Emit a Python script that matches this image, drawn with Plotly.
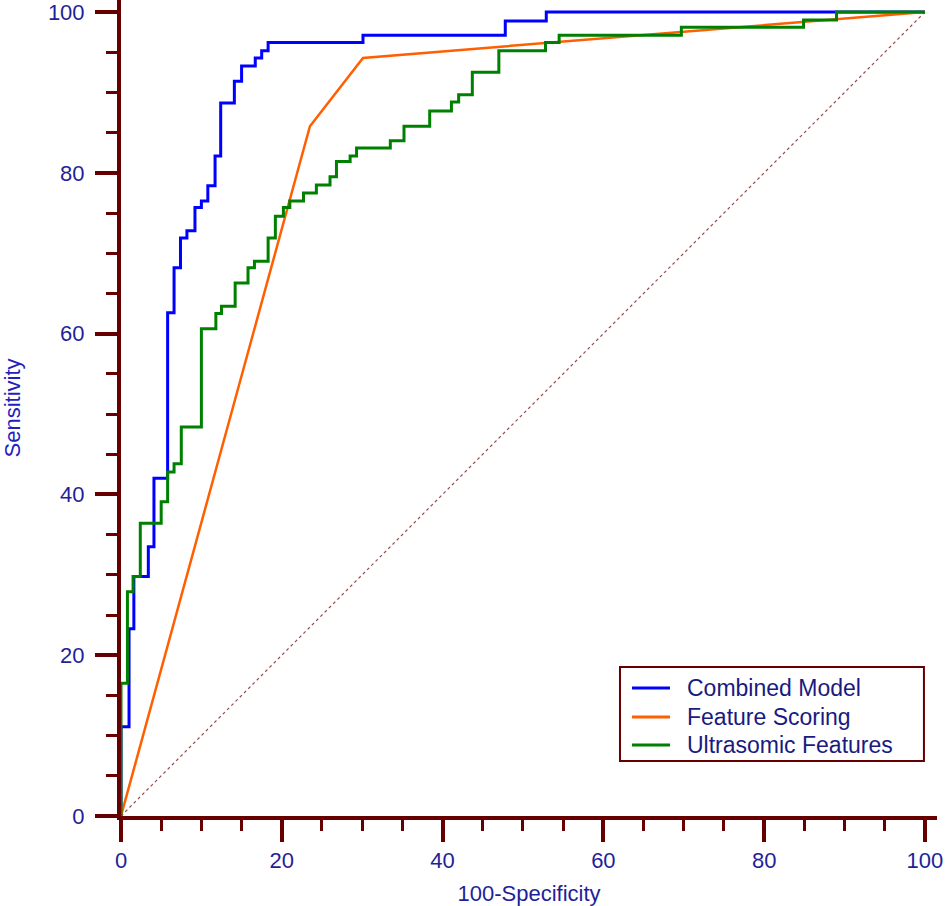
import plotly.graph_objects as go

# ROC points (100-Specificity, Sensitivity)
combined_x = [0, 0, 1.0, 1.6, 3.4, 4.1, 5.8, 6.6, 7.4, 8.2, 9.2, 10.0, 10.8, 11.7, 12.4,
              14.1, 15.0, 16.7, 17.5, 18.3, 30.1, 47.8, 52.9, 100]
combined_y = [0, 11.1, 23.3, 29.8, 33.5, 42.0, 62.6, 68.2, 71.9, 72.8, 75.7, 76.5, 78.4, 82.1, 88.7,
              91.4, 93.3, 94.3, 95.2, 96.2, 97.1, 98.9, 100, 100]

scoring_x = [0, 23.5, 30.1, 100]
scoring_y = [0, 85.8, 94.3, 100]

ultra_x = [0, 0, 0.8, 1.5, 2.4, 5.0, 5.8, 6.6, 7.5, 10.0, 11.8, 12.5, 14.2, 15.8, 16.6, 18.3,
           19.2, 20.2, 21.0, 22.7, 24.3, 26.0, 26.8, 28.5, 29.3, 33.5, 35.2, 38.4, 41.1, 42.0,
           43.7, 47.0, 52.8, 54.5, 69.7, 84.9, 89.0, 100]
ultra_y = [0, 16.5, 27.9, 29.8, 36.4, 39.1, 42.8, 43.8, 48.4, 60.6, 62.5, 63.4, 66.3, 68.2, 69.0, 71.9,
           74.6, 75.7, 76.5, 77.5, 78.5, 79.5, 81.4, 82.1, 83.1, 84.0, 85.8, 87.7, 88.8, 89.7,
           92.5, 95.2, 96.2, 97.1, 98.1, 99.0, 100, 100]

ref_line = [0, 100]
ticks = [0, 20, 40, 60, 80, 100]

names = ['Combined Model', 'Feature Scoring', 'Ultrasomic Features']
colors = ['#0000ff', '#ff5f00', '#008000']

axis_col = '#660000'
text_col = '#1f1f99'
font = 'Liberation Sans, Arial, sans-serif'

fig = go.Figure()
fig.add_trace(go.Scatter(x=ref_line, y=ref_line, mode='lines',
                         line=dict(color='#9a4a4a', width=1.2, dash='dot')))
fig.add_trace(go.Scatter(x=combined_x, y=combined_y, mode='lines', name=names[0],
                         line=dict(color=colors[0], width=3, shape='hv')))
fig.add_trace(go.Scatter(x=scoring_x, y=scoring_y, mode='lines', name=names[1],
                         line=dict(color=colors[1], width=2.5)))
fig.add_trace(go.Scatter(x=ultra_x, y=ultra_y, mode='lines', name=names[2],
                         line=dict(color=colors[2], width=3, shape='hv')))

axis_style = dict(range=[0, 101.5], tickvals=ticks, showgrid=False, zeroline=False,
                  showline=True, linecolor=axis_col, linewidth=4, automargin=False,
                  ticks='outside', ticklen=22, tickwidth=4, tickcolor=axis_col,
                  ticklabeloverflow='allow',
                  minor=dict(dtick=5, tick0=0, ticks='outside', ticklen=11, tickwidth=3,
                             tickcolor=axis_col, showgrid=False),
                  tickfont=dict(family=font, size=22, color=text_col))

# legend box drawn by hand so it matches the original spacing
shapes = [dict(type='rect', xref='paper', yref='paper', x0=0.6115, x1=0.984, y0=0.0674, y1=0.1826,
               line=dict(color=axis_col, width=2), fillcolor='white', layer='above')]
annotations = []
row_y = [0.1569, 0.1213, 0.0870]
for name, col, yy in zip(names, colors, row_y):
    shapes.append(dict(type='line', xref='paper', yref='paper', x0=0.6262, x1=0.6728, y0=yy, y1=yy,
                       line=dict(color=col, width=3), layer='above'))
    annotations.append(dict(text=name, xref='paper', yref='paper', x=0.6912, y=yy,
                            xanchor='left', yanchor='middle', showarrow=False,
                            font=dict(family=font, size=23, color='#1a1a80')))

fig.update_layout(width=945, height=906, showlegend=False,
                  margin=dict(l=121, r=8, t=0, b=90),
                  plot_bgcolor='white', paper_bgcolor='white',
                  shapes=shapes, annotations=annotations,
                  xaxis=dict(axis_style, title=dict(text='100-Specificity', standoff=16,
                                                    font=dict(family=font, size=22, color=text_col))),
                  yaxis=dict(axis_style, ticklabelstandoff=6,
                             title=dict(text='Sensitivity', standoff=40,
                                        font=dict(family=font, size=22, color='#2222bb'))))

# drop the page's default body margin so the figure sits at the window corner
fig.write_html("out.html", config={'displayModeBar': False},
               post_script="document.body.style.margin='0';")
